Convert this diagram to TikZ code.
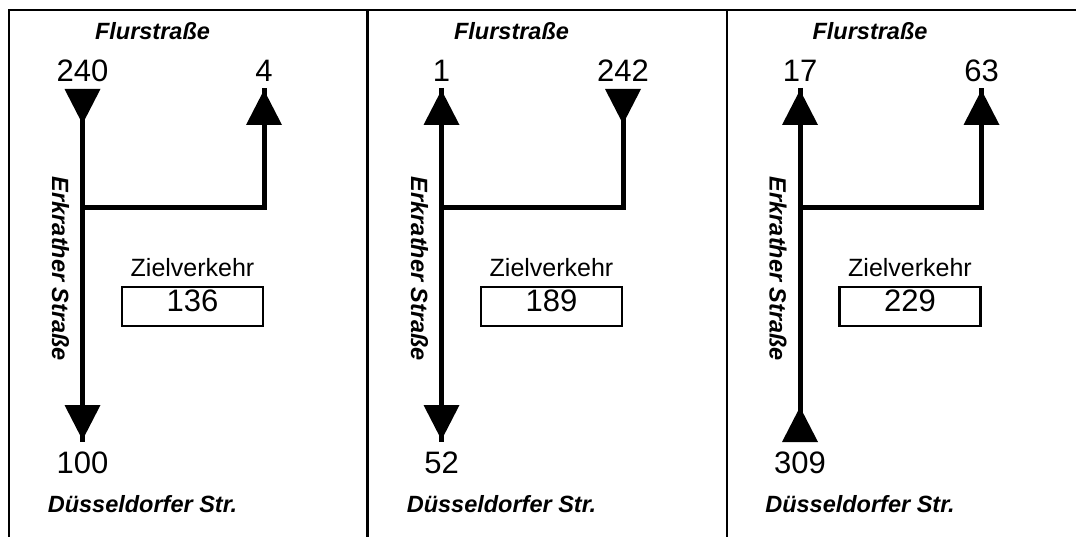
\documentclass[tikz,border=0pt]{standalone}
\usepackage{fontspec}
\setmainfont{Liberation Sans}
\begin{document}
\begin{tikzpicture}[x=1pt,y=-1pt,
  road/.style={line width=5pt},
  frameline/.style={line width=2.6pt},
  num/.style={font=\fontsize{31}{31}\selectfont, anchor=base, inner sep=0pt},
  street/.style={font=\fontsize{23.5}{24}\selectfont\bfseries\itshape, anchor=base, inner sep=0pt},
  lbl/.style={font=\fontsize{25}{25}\selectfont, anchor=base, inner sep=0pt},
  countbox/.style={draw, line width=2.6pt, minimum width=141pt, minimum height=39pt, inner sep=0pt},
  tridn/.pic={\fill (-18,0) -- (18,0) -- (0,35) -- cycle;},
  triup/.pic={\fill (-18,0) -- (18,0) -- (0,-35) -- cycle;}
]
\useasboundingbox (0,0) rectangle (1076,537);
\fill[white] (0,0) rectangle (1076,537);
% frame
\coordinate (fTL) at (9,10);
\coordinate (fTR) at (1076,10);
\coordinate (fBL) at (9,537);
\coordinate (d1T) at (367.7,10);
\coordinate (d1B) at (367.7,537);
\coordinate (d2T) at (727,10);
\coordinate (d2B) at (727,537);
\draw[frameline] (fBL) -- (fTL) -- (fTR);
\draw[frameline] (d1T) -- (d1B);
\draw[frameline] (d2T) -- (d2B);

% ---------- Panel 1 ----------
\begin{scope}[xshift=0pt]
\coordinate (p1top) at (82.5,89);
\coordinate (p1bot) at (82.5,442);
\coordinate (p1j) at (82.5,208);
\coordinate (p1k) at (264,208);
\coordinate (p1r) at (264,88);
\draw[road] (p1top) -- (p1bot);
\draw[road] (p1j) -- (p1k) -- (p1r);
\pic at (82.5,89) {tridn};
\pic at (264,125) {triup};
\pic at (82.5,405) {tridn};
\node[street] (p1fl) at (152.5,40) {Flurstraße};
\node[num] (p1n1) at (82.5,82) {240};
\node[num] (p1n2) at (264,82) {4};
\node[num] (p1n3) at (82.5,473) {100};
\node[street] (p1ds) at (142.5,512) {Düsseldorfer Str.};
\node[font=\fontsize{23.5}{24}\selectfont\bfseries\itshape, rotate=-90, inner sep=0pt] (p1er) at (60.5,269) {Erkrather Straße};
\node[lbl] (p1zl) at (192.5,277) {Zielverkehr};
\node[countbox] (p1box) at (192.5,306.5) {};
\node[num] (p1zv) at (192.5,312) {136};
\end{scope}

% ---------- Panel 2 ----------
\begin{scope}[xshift=359pt]
\coordinate (p2top) at (82.5,88);
\coordinate (p2bot) at (82.5,442);
\coordinate (p2j) at (82.5,208);
\coordinate (p2k) at (264,208);
\coordinate (p2r) at (264,89);
\draw[road] (p2top) -- (p2bot);
\draw[road] (p2j) -- (p2k) -- (p2r);
\pic at (82.5,125) {triup};
\pic at (264,89) {tridn};
\pic at (82.5,405) {tridn};
\node[street] (p2fl) at (152.5,40) {Flurstraße};
\node[num] (p2n1) at (82.5,82) {1};
\node[num] (p2n2) at (264,82) {242};
\node[num] (p2n3) at (82.5,473) {52};
\node[street] (p2ds) at (142.5,512) {Düsseldorfer Str.};
\node[font=\fontsize{23.5}{24}\selectfont\bfseries\itshape, rotate=-90, inner sep=0pt] (p2er) at (60.5,269) {Erkrather Straße};
\node[lbl] (p2zl) at (192.5,277) {Zielverkehr};
\node[countbox] (p2box) at (192.5,306.5) {};
\node[num] (p2zv) at (192.5,312) {189};
\end{scope}

% ---------- Panel 3 ----------
\begin{scope}[xshift=717.5pt]
\coordinate (p3top) at (82.5,88);
\coordinate (p3bot) at (82.5,442);
\coordinate (p3j) at (82.5,208);
\coordinate (p3k) at (264,208);
\coordinate (p3r) at (264,88);
\draw[road] (p3top) -- (p3bot);
\draw[road] (p3j) -- (p3k) -- (p3r);
\pic at (82.5,125) {triup};
\pic at (264,125) {triup};
\pic at (82.5,442) {triup};
\node[street] (p3fl) at (152.5,40) {Flurstraße};
\node[num] (p3n1) at (82.5,82) {17};
\node[num] (p3n2) at (264,82) {63};
\node[num] (p3n3) at (82.5,473) {309};
\node[street] (p3ds) at (142.5,512) {Düsseldorfer Str.};
\node[font=\fontsize{23.5}{24}\selectfont\bfseries\itshape, rotate=-90, inner sep=0pt] (p3er) at (60.5,269) {Erkrather Straße};
\node[lbl] (p3zl) at (192.5,277) {Zielverkehr};
\node[countbox] (p3box) at (192.5,306.5) {};
\node[num] (p3zv) at (192.5,312) {229};
\end{scope}
\end{tikzpicture}
\end{document}
